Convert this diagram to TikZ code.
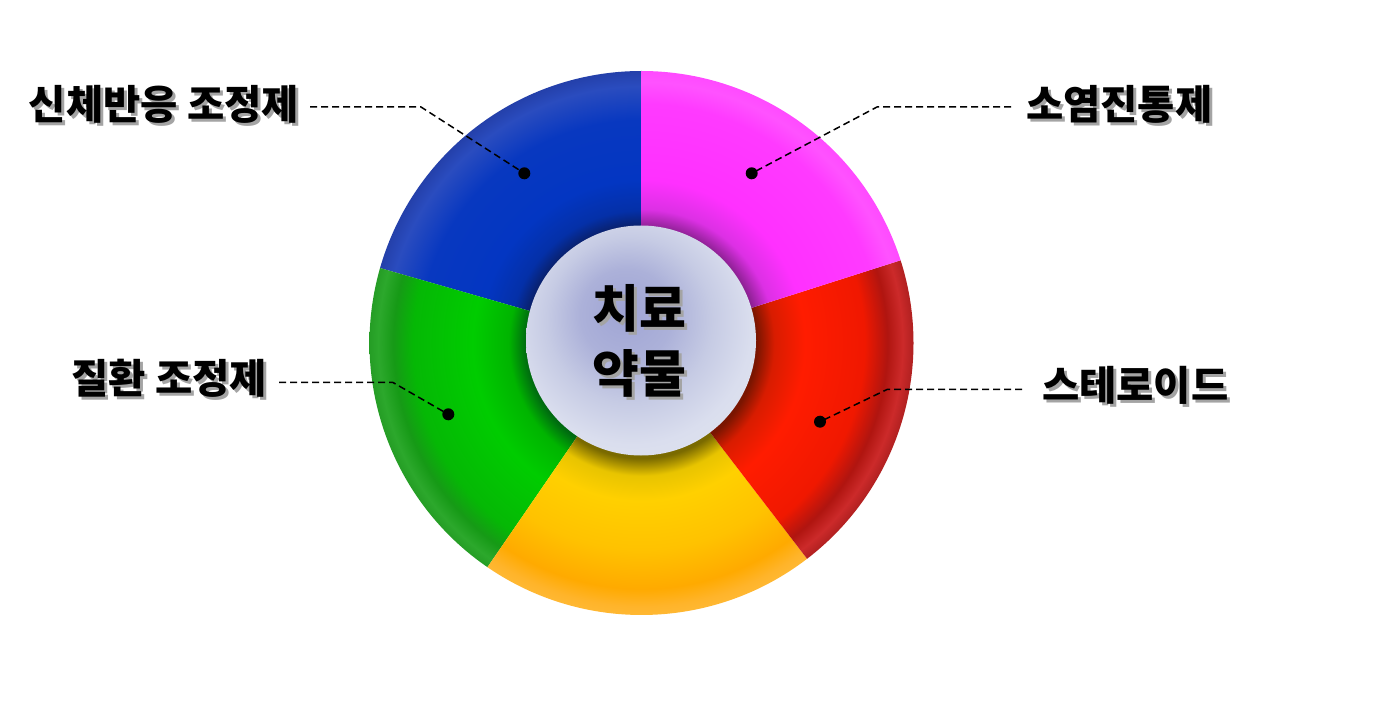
\documentclass[tikz,border=0pt]{standalone}
\usepackage{fontspec}
\newfontfamily\krfont{Noto Sans CJK KR}
\usetikzlibrary{calc}
% blue
\definecolor{bA}{HTML}{0A1F66}\definecolor{bB}{HTML}{0430A8}\definecolor{bC}{HTML}{0336C2}
\definecolor{bD}{HTML}{0838C0}\definecolor{bE}{HTML}{2A4CBF}\definecolor{bF}{HTML}{2440AA}
% green
\definecolor{gA}{HTML}{006A10}\definecolor{gB}{HTML}{00B400}\definecolor{gC}{HTML}{00CC00}
\definecolor{gD}{HTML}{05B805}\definecolor{gE}{HTML}{169A16}\definecolor{gF}{HTML}{2CA82C}\definecolor{gG}{HTML}{259D25}
% red
\definecolor{rA}{HTML}{7A1500}\definecolor{rB}{HTML}{D81C00}\definecolor{rC}{HTML}{FF1C00}
\definecolor{rD}{HTML}{F01800}\definecolor{rE}{HTML}{B01510}\definecolor{rF}{HTML}{CC2A2A}\definecolor{rG}{HTML}{B02020}
% pink
\definecolor{pA}{HTML}{8A2090}\definecolor{pB}{HTML}{DC30E4}\definecolor{pC}{HTML}{FF30FF}
\definecolor{pD}{HTML}{FF3AFF}\definecolor{pE}{HTML}{FF52FF}\definecolor{pF}{HTML}{FF4AFF}
% yellow
\definecolor{yA}{HTML}{7A6A00}\definecolor{yB}{HTML}{E8C400}\definecolor{yC}{HTML}{FFD000}
\definecolor{yD}{HTML}{FFC200}\definecolor{yE}{HTML}{FFAA00}\definecolor{yF}{HTML}{FFB42A}\definecolor{yG}{HTML}{FFB833}
% core
\definecolor{cA}{HTML}{9FA4D4}\definecolor{cB}{HTML}{ACB1D9}\definecolor{cC}{HTML}{C6CBE4}
\definecolor{cD}{HTML}{DADEEE}\definecolor{cE}{HTML}{E0E4F0}
\definecolor{shadowgray}{HTML}{A4A4A4}

\pgfdeclareradialshading{shB}{\pgfpointorigin}{color(0bp)=(bA); color(10.6bp)=(bA); color(12.2bp)=(bB); color(15bp)=(bC); color(20.5bp)=(bD); color(23.6bp)=(bE); color(25bp)=(bF); color(50bp)=(bF)}
\pgfdeclareradialshading{shG}{\pgfpointorigin}{color(0bp)=(gA); color(10.6bp)=(gA); color(12.2bp)=(gB); color(15.5bp)=(gC); color(21bp)=(gD); color(22.8bp)=(gE); color(24.2bp)=(gF); color(25bp)=(gG); color(50bp)=(gG)}
\pgfdeclareradialshading{shR}{\pgfpointorigin}{color(0bp)=(rA); color(10.6bp)=(rA); color(12.2bp)=(rB); color(15bp)=(rC); color(20.5bp)=(rD); color(22.6bp)=(rE); color(24bp)=(rF); color(25bp)=(rG); color(50bp)=(rG)}
\pgfdeclareradialshading{shP}{\pgfpointorigin}{color(0bp)=(pA); color(10.6bp)=(pA); color(12.3bp)=(pB); color(15bp)=(pC); color(22bp)=(pD); color(24bp)=(pE); color(25bp)=(pF); color(50bp)=(pF)}
\pgfdeclareradialshading{shY}{\pgfpointorigin}{color(0bp)=(yA); color(10.6bp)=(yA); color(12.2bp)=(yB); color(14.5bp)=(yC); color(19bp)=(yD); color(22.6bp)=(yE); color(24.2bp)=(yF); color(25bp)=(yG); color(50bp)=(yG)}
\pgfdeclareradialshading{coreS}{\pgfpoint{-4bp}{7bp}}{color(0bp)=(cA); color(10bp)=(cB); color(18bp)=(cC); color(26bp)=(cD); color(34bp)=(cE); color(50bp)=(cE)}

\newcommand\shtx[1]{\rlap{\kern3pt\raisebox{-3pt}[0pt][0pt]{\color{shadowgray}#1}}#1}
\newcommand\ringpiece[3]{%
  \begin{scope}
    \clip (C) -- ($(C)+(#1:272)$) arc[start angle=#1, end angle=#2, radius=272] -- cycle;
    \shade[shading=#3] (C) circle (272);
  \end{scope}}

\begin{document}
\begin{tikzpicture}[x=1pt,y=1pt,
  leader/.style={black, line width=1.5pt, dash pattern=on 7pt off 4pt},
  dotn/.style={circle, fill=black, inner sep=0pt, minimum size=12pt},
  lbl/.style={font=\krfont\bfseries\fontsize{40.5}{48}\selectfont, inner sep=0pt, text=black},
  ctr/.style={font=\krfont\bfseries\fontsize{51}{65}\selectfont, inner sep=0pt, align=center, text=black}]
\fill[white] (0,0) rectangle (1381,721);
\useasboundingbox (0,0) rectangle (1381,721);
\coordinate (C) at (641.5,378);

\ringpiece{90}{164}{shB}
\ringpiece{164}{235.5}{shG}
\ringpiece{235.5}{307.5}{shY}
\ringpiece{307.5}{377.7}{shR}
\ringpiece{17.7}{90}{shP}

\shade[shading=coreS] (641,380.5) circle (115);
\node[ctr] (ct) at (639,380.5) {\shtx{치료}\\\shtx{약물}};

% labels and leaders
\node[lbl, anchor=east, outer xsep=11pt] (t1) at (310,617) {\shtx{신체반응 조정제}};
\coordinate (e1) at (421,614);
\node[dotn] (d1) at (524.3,547.7) {};
\draw[leader] (t1.east |- e1) -- (e1) -- (d1.center);

\node[lbl, anchor=west, outer xsep=15pt] (t2) at (1011,617) {\shtx{소염진통제}};
\coordinate (e2) at (877,614);
\node[dotn] (d2) at (751.7,547.7) {};
\draw[leader] (t2.west |- e2) -- (e2) -- (d2.center);

\node[lbl, anchor=east, outer xsep=12pt] (t3) at (279,343) {\shtx{질환 조정제}};
\coordinate (e3) at (393,338.5);
\node[dotn] (d3) at (448.3,306.7) {};
\draw[leader] (t3.east |- e3) -- (e3) -- (d3.center);

\node[lbl, anchor=west, outer xsep=20pt] (t4) at (1022,336) {\shtx{스테로이드}};
\coordinate (e4) at (887,331.5);
\node[dotn] (d4) at (820,299.3) {};
\draw[leader] (t4.west |- e4) -- (e4) -- (d4.center);
\end{tikzpicture}
\end{document}
